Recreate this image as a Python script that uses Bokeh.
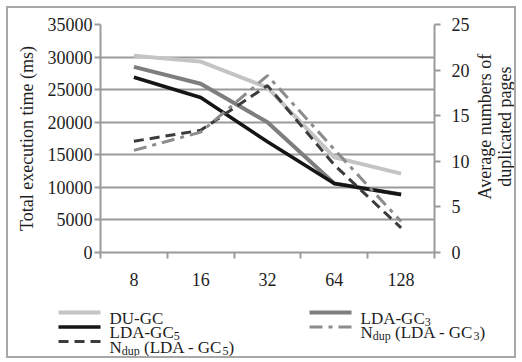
import numpy as np
from bokeh.plotting import figure
from bokeh.layouts import column, row
from bokeh.models import Range1d, LinearAxis, FixedTicker
from bokeh.core.properties import value
from bokeh.embed import file_html
from bokeh.resources import INLINE

# Thread counts on the x axis
threads = ["8", "16", "32", "64", "128"]

# Total execution time (ms), left axis
du_gc = [30200, 29300, 25300, 14600, 12100]
lda_gc3 = [28500, 25900, 20000, 10600, 8900]
lda_gc5 = [26900, 23800, 17000, 10600, 8900]

# Average numbers of duplicated pages, right axis
ndup_gc5 = [12.2, 13.4, 18.3, 9.6, 2.7]
ndup_gc3 = [11.2, 13.2, 19.4, 11.3, 3.4]

time_ticks = [0, 5000, 10000, 15000, 20000, 25000, 30000, 35000]
dup_ticks = [0, 5, 10, 15, 20, 25]

left_title = "Total execution time (ms)"
right_title = ["Average numbers of", "duplicated pages"]

FONT = "Liberation Serif"
GRID = "#9a9a9a"
FRAME = "#a8a8a8"
TEXT = "#1e1e1e"
FS = "18px"

# page layout, in page pixels
IN_L, IN_T, IN_R, IN_B = 8, 8, 514, 356     # inside of the outer frame
FL, FT, FR, FB = 100, 24, 437, 252          # plot area
CHART_R, CHART_B = 472, 296                 # chart figure's right/bottom edge

x = np.arange(len(threads)) + 0.5

# ---------------------------------------------------------------- chart
p = figure(width=CHART_R - IN_L, height=CHART_B - IN_T,
           output_backend="svg", toolbar_location=None,
           x_range=Range1d(0, len(threads)), y_range=Range1d(0, time_ticks[-1]),
           min_border_left=FL - IN_L, min_border_right=CHART_R - FR,
           min_border_top=FT - IN_T, min_border_bottom=CHART_B - FB)
p.extra_y_ranges = {"dup": Range1d(0, dup_ticks[-1])}
p.outline_line_color = None

p.xgrid.visible = False
p.ygrid.ticker = FixedTicker(ticks=time_ticks)
p.ygrid.grid_line_color = GRID
p.ygrid.grid_line_width = 2

# x axis: labels centred on each category, tick marks on the boundaries
xa = p.xaxis[0]
xa.ticker = FixedTicker(ticks=list(x), minor_ticks=list(range(len(threads) + 1)))
xa.major_label_overrides = {float(v): t for v, t in zip(x, threads)}
xa.major_tick_line_color = None
xa.minor_tick_line_color = GRID
xa.minor_tick_line_width = 2
xa.minor_tick_in = 0
xa.minor_tick_out = 6
xa.axis_line_color = GRID
xa.axis_line_width = 2
xa.major_label_standoff = 14

ya = p.yaxis[0]
ya.ticker = FixedTicker(ticks=time_ticks)
ya.minor_tick_line_color = None
ya.major_tick_in = 0
ya.major_tick_out = 6
ya.major_tick_line_color = GRID
ya.major_tick_line_width = 2
ya.axis_line_color = GRID
ya.axis_line_width = 2
ya.major_label_standoff = 2
ya.axis_label = left_title
ya.axis_label_standoff = 8

ra = LinearAxis(y_range_name="dup", ticker=FixedTicker(ticks=dup_ticks))
ra.minor_tick_line_color = None
ra.major_tick_in = 0
ra.major_tick_out = 6
ra.major_tick_line_color = GRID
ra.major_tick_line_width = 2
ra.axis_line_color = GRID
ra.axis_line_width = 2
ra.major_label_standoff = 11
p.add_layout(ra, "right")

for ax in (xa, ya, ra):
    ax.major_label_text_font = FONT
    ax.major_label_text_font_size = FS
    ax.major_label_text_color = TEXT
    ax.axis_label_text_font = FONT
    ax.axis_label_text_font_size = FS
    ax.axis_label_text_font_style = "normal"
    ax.axis_label_text_color = TEXT

st_du = dict(line_color="#c4c4c4", line_width=4)
st_g3 = dict(line_color="#7e7e7e", line_width=4)
st_g5 = dict(line_color="#151515", line_width=3.5)
st_n5 = dict(line_color="#3c3c3c", line_width=3, line_dash="10 6")
st_n3 = dict(line_color="#8c8c8c", line_width=3, line_dash="13 6 4 6")

p.line(x, du_gc, **st_du)
p.line(x, lda_gc3, **st_g3)
p.line(x, lda_gc5, **st_g5)
p.line(x, ndup_gc5, y_range_name="dup", **st_n5)
p.line(x, ndup_gc3, y_range_name="dup", **st_n3)


def blank(x0, x1, y0, y1):
    """A bare figure whose data coordinates are page pixels (y negated)."""
    f = figure(width=x1 - x0, height=y1 - y0, output_backend="svg",
               toolbar_location=None, x_axis_type=None, y_axis_type=None,
               x_range=Range1d(x0, x1), y_range=Range1d(-y1, -y0),
               min_border=0, outline_line_color=None)
    f.grid.visible = False
    return f


# ---------------------------------------------------------------- right title
tfig = blank(CHART_R, IN_R, IN_T, CHART_B)
tfig.text(x=[484, 504], y=[-137, -137], text=right_title, angle=np.pi / 2,
          text_font=value(FONT), text_font_size=value(FS), text_color=TEXT,
          text_align="center", text_baseline="middle")

# ---------------------------------------------------------------- legend
leg = blank(IN_L, IN_R, CHART_B, IN_B)

# approximate advance widths of the serif face (per 1000 em)
ADV = {"N": 722, "d": 500, "u": 500, "p": 500, " ": 250, "(": 333, ")": 333,
       "L": 611, "D": 722, "A": 722, "-": 333, "G": 722, "C": 667, "U": 722,
       "3": 500, "5": 500}
LEG, SUB = 17, 12

legend_items = [
    (st_du, [("DU-GC", 0)], 58, 312),
    (st_g3, [("LDA-GC", 0), ("3", 1)], 309, 312),
    (st_g5, [("LDA-GC", 0), ("5", 1)], 58, 326.5),
    (st_n3, [("N", 0), ("dup", 1), (" (LDA - GC", 0), ("3", 1), (")", 0)], 309, 326.5),
    (st_n5, [("N", 0), ("dup", 1), (" (LDA - GC", 0), ("5", 1), (")", 0)], 58, 341),
]


def advance(txt, size):
    return sum(ADV.get(ch, 500) for ch in txt) * size / 1000


tx, ty, tt, ts = [], [], [], []
for style, pieces, x0, cy in legend_items:
    leg.line([x0, x0 + 42], [-cy, -cy], **style)
    cx = x0 + 51
    base = cy + 5.5
    for txt, sub in pieces:
        size = SUB if sub else LEG
        body = txt.lstrip()
        cx += advance(txt[:len(txt) - len(body)], size)   # leading blanks are not drawn
        tx.append(cx)
        ty.append(-(base + (3.5 if sub else 0)))
        tt.append(body)
        ts.append(f"{size}px")
        cx += advance(body, size)

leg.text(x=tx, y=ty, text=tt, text_font_size=ts, text_font=value(FONT),
         text_color=TEXT, text_align="left", text_baseline="alphabetic")

page = column(row(p, tfig), leg,
              styles={"border": f"2px solid {FRAME}", "margin": "6px 0 0 6px"})

open("out.html", "w").write(file_html(page, INLINE))
